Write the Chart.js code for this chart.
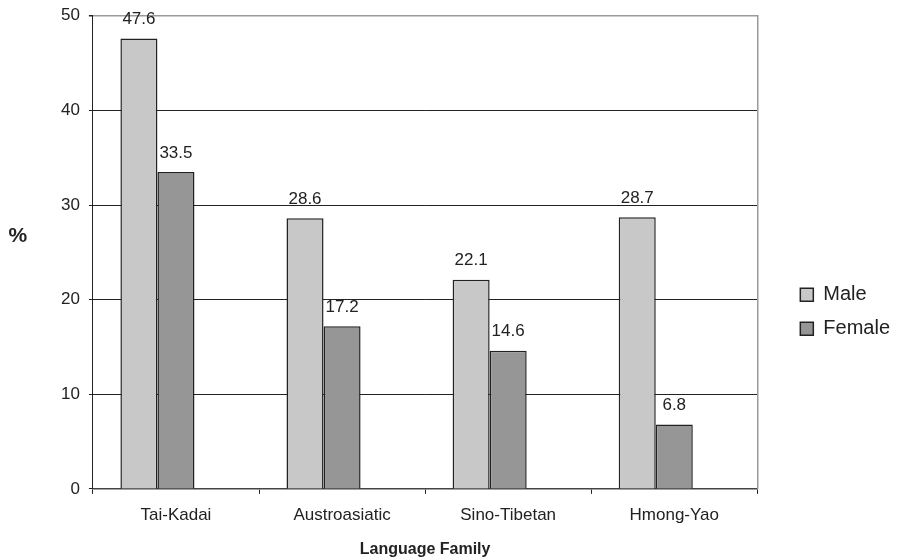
<!DOCTYPE html>
<html>
<head>
<meta charset="utf-8">
<script src="https://cdn.jsdelivr.net/npm/chart.js@4/dist/chart.umd.min.js"></script>
<style>
  html, body { margin: 0; padding: 0; background: #ffffff; }
  #wrap { width: 903px; height: 560px; position: relative; }
</style>
</head>
<body>
<div id="wrap"><canvas id="chart"></canvas></div>
<script>
// Share of each language family, by sex (%)
const families = ['Tai-Kadai', 'Austroasiatic', 'Sino-Tibetan', 'Hmong-Yao'];
const male = [47.6, 28.6, 22.1, 28.7];
const female = [33.5, 17.2, 14.6, 6.8];
// empty third slot in each cluster (keeps the clusters left of the category centre)
const reserved = [null, null, null, null];
const yTicks = [0, 10, 20, 30, 40, 50];

const FONT = "'Liberation Sans', Arial, Helvetica, sans-serif";
const INK = '#222222';

// value labels above each bar
const valueLabels = {
  id: 'valueLabels',
  afterDatasetsDraw(chart) {
    const ctx = chart.ctx;
    ctx.save();
    ctx.font = '17px ' + FONT;
    ctx.fillStyle = INK;
    ctx.textAlign = 'center';
    ctx.textBaseline = 'middle';
    chart.data.datasets.forEach((ds, di) => {
      const meta = chart.getDatasetMeta(di);
      meta.data.forEach((bar, i) => {
        const v = ds.data[i];
        if (v === null || v === undefined) return;
        ctx.fillText(v.toFixed(1), bar.x, bar.y - 19);
      });
    });
    ctx.restore();
  }
};

// horizontal "%" caption left of the value axis
const percentCaption = {
  id: 'percentCaption',
  afterDraw(chart) {
    const { ctx, chartArea } = chart;
    ctx.save();
    ctx.font = 'bold 21px ' + FONT;
    ctx.fillStyle = INK;
    ctx.textAlign = 'center';
    ctx.textBaseline = 'middle';
    ctx.fillText('%', chartArea.left - 75, chartArea.top + 220);
    ctx.restore();
  }
};

new Chart(document.getElementById('chart'), {
  type: 'bar',
  data: {
    labels: families,
    datasets: [
      { label: 'Male', data: male, backgroundColor: '#c8c8c8', borderColor: INK, borderWidth: 1.5 },
      { label: 'Female', data: female, backgroundColor: '#969696', borderColor: INK, borderWidth: 1.5 },
      { label: '', data: reserved, backgroundColor: 'rgba(0,0,0,0)', borderWidth: 0 }
    ]
  },
  options: {
    responsive: true,
    maintainAspectRatio: false,
    animation: false,
    layout: { padding: { left: 52, right: 3, top: 14, bottom: 0.5 } },
    datasets: { bar: { categoryPercentage: 0.669, barPercentage: 1.0 } },
    scales: {
      x: {
        grid: { display: true, drawOnChartArea: false, drawTicks: true, tickLength: 5, offset: true, color: INK, lineWidth: 1 },
        border: { display: true, color: '#444444', width: 1.5 },
        ticks: { color: INK, font: { family: FONT, size: 17 }, padding: 11 },
        title: { display: true, text: 'Language Family', color: INK, font: { family: FONT, size: 16, weight: 'bold' }, padding: { top: 4, bottom: 0 } }
      },
      y: {
        min: 0, max: 50,
        afterBuildTicks(scale) { scale.ticks = yTicks.map(v => ({ value: v })); },
        grid: {
          color: c => (c.tick && c.tick.value === 50 ? '#9a9a9a' : INK),
          tickColor: INK,
          lineWidth: c => (c.tick && c.tick.value === 50 ? 1.5 : 1),
          drawTicks: true, tickLength: 4
        },
        border: { display: true, color: INK, width: 1 },
        ticks: { color: INK, font: { family: FONT, size: 17, lineHeight: 0.8 }, padding: 9 }
      },
      yRight: {
        type: 'linear', position: 'right', min: 0, max: 50,
        grid: { display: false, drawTicks: false },
        ticks: { display: false, font: { size: 8, lineHeight: 0.8 } },
        border: { display: true, color: '#9a9a9a', width: 1.5 },
        title: { display: true, text: '', font: { size: 12 }, padding: { top: 0, bottom: 14.6 } }
      }
    },
    plugins: {
      legend: {
        position: 'right',
        align: 'center',
        title: { display: true, text: '', font: { size: 12 }, padding: { top: 0, bottom: 35.6 } },
        labels: {
          boxWidth: 13, boxHeight: 13, padding: 14,
          color: INK,
          font: { family: FONT, size: 20 },
          filter: item => item.text !== '',
          generateLabels(chart) {
            return chart.data.datasets.map((ds, i) => ({
              text: ds.label,
              fillStyle: ds.backgroundColor,
              strokeStyle: INK,
              lineWidth: 1.5,
              hidden: false,
              datasetIndex: i,
              fontColor: INK
            }));
          }
        }
      },
      tooltip: { enabled: false }
    }
  },
  plugins: [valueLabels, percentCaption]
});
</script>
</body>
</html>
